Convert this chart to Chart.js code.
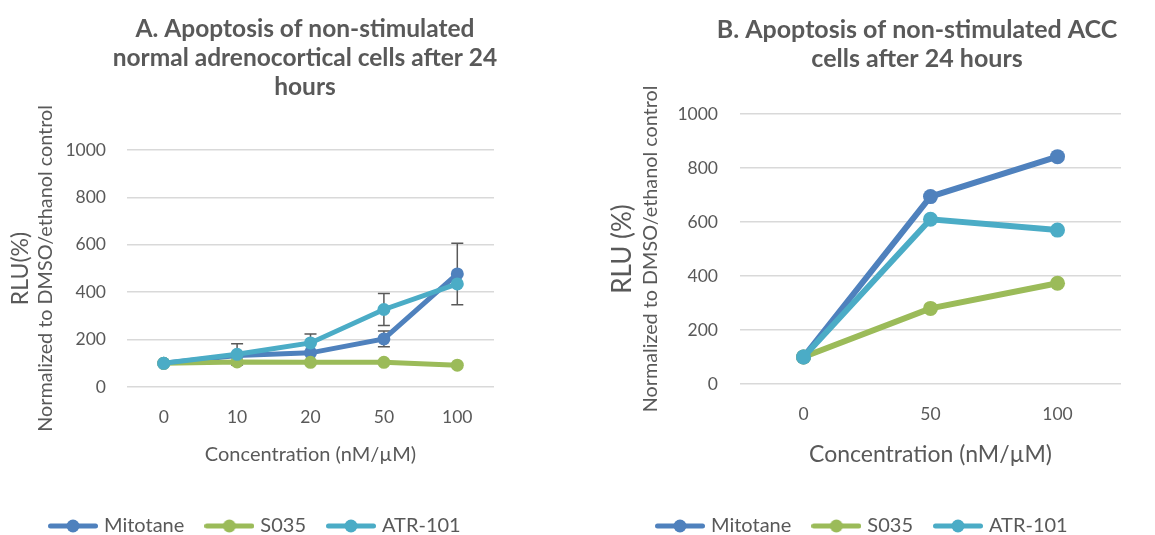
<!DOCTYPE html>
<html>
<head>
<meta charset="utf-8">
<script src="https://cdn.jsdelivr.net/npm/chart.js@4.4.1/dist/chart.umd.min.js"></script>
<style>
  body { margin: 0; background: #fff; overflow: hidden; width: 1155px; height: 535px; position: relative; }
  canvas { position: absolute; top: 0; }
  #chartA { left: 0; }
  #chartB { left: 600px; }
</style>
</head>
<body>
<canvas id="chartA" width="610" height="535"></canvas>
<canvas id="chartB" width="634" height="535"></canvas>
<script>
const seriesNames = ["Mitotane", "S035", "ATR-101"];
const seriesColors = ["#4f81bd", "#9bbb59", "#4bacc6"];

// panel A - normal adrenocortical cells
const concA = ["0", "10", "20", "50", "100"];
const mitotaneA = [100, 133, 144, 203, 477];
const s035A = [100, 106, 104, 104, 92];
const atrA = [100, 138, 186, 327, 435];
const mitotaneErrA = [0, 0, 0, 33, 130];
const s035ErrA = [0, 0, 0, 0, 0];
const atrErrA = [0, 45, 38, 67, 0];

// panel B - ACC cells
const concB = ["0", "50", "100"];
const mitotaneB = [100, 694, 842];
const s035B = [100, 280, 373];
const atrB = [100, 610, 570];

const yMin = 0;
const yMax = 1000;
const yStep = 200;

const titleA = ["A. Apoptosis of non-stimulated", "normal adrenocortical cells after 24", "hours"];
const titleB = ["B. Apoptosis of non-stimulated ACC", "cells after 24 hours"];

Chart.defaults.font.family = "Lato";
Chart.defaults.color = "#595959";

// little line-with-dot picture for the legend, like excel does
function legendIcon(color, lw, r) {
  const c = document.createElement("canvas");
  c.width = 50;
  c.height = 16;
  const g = c.getContext("2d");
  g.strokeStyle = color;
  g.lineWidth = lw;
  g.lineCap = "round";
  g.beginPath();
  g.moveTo(lw / 2, 8);
  g.lineTo(50 - lw / 2, 8);
  g.stroke();
  g.fillStyle = color;
  g.beginPath();
  g.arc(25, 8, r, 0, Math.PI * 2);
  g.fill();
  return c;
}

const errorBars = {
  id: "errorBars",
  beforeDatasetsDraw(chart) {
    const ctx = chart.ctx;
    const y = chart.scales.y;
    ctx.save();
    ctx.strokeStyle = "#595959";
    ctx.lineWidth = 1.5;
    chart.data.datasets.forEach((ds, i) => {
      if (!ds.errors) return;
      const meta = chart.getDatasetMeta(i);
      meta.data.forEach((pt, j) => {
        const e = ds.errors[j];
        if (!e) return;
        const top = y.getPixelForValue(ds.data[j] + e);
        const bot = y.getPixelForValue(ds.data[j] - e);
        ctx.beginPath();
        ctx.moveTo(pt.x, top);
        ctx.lineTo(pt.x, bot);
        ctx.moveTo(pt.x - 6, top);
        ctx.lineTo(pt.x + 6, top);
        ctx.moveTo(pt.x - 6, bot);
        ctx.lineTo(pt.x + 6, bot);
        ctx.stroke();
      });
    });
    ctx.restore();
  },
};

// move the legend so it sits where the original one is
const legendPlace = {
  id: "legendPlace",
  afterLayout(chart, args, opts) {
    const lg = chart.legend;
    if (!lg) return;
    const pad = lg.options.labels.padding;
    const fs = lg.options.labels.font.size;
    const w = lg.right - lg.left;
    const h = lg.bottom - lg.top;
    lg.left = opts.x - pad;
    lg.right = lg.left + w;
    lg.top = opts.cy - pad - fs / 2;
    lg.bottom = lg.top + h;
  },
};

function buildChart(id, labels, values, errors, s) {
  const orders = [3, 2, 1]; // ATR-101 on top, like the original
  const datasets = values.map((data, i) => ({
    label: seriesNames[i],
    data: data,
    errors: errors ? errors[i] : null,
    order: orders[i],
    borderColor: seriesColors[i],
    backgroundColor: seriesColors[i],
    pointBackgroundColor: seriesColors[i],
    pointBorderWidth: 0,
    pointRadius: s.pointR,
    pointHoverRadius: s.pointR,
    borderWidth: s.lineW,
    tension: 0,
  }));
  const icons = seriesColors.map((c) => legendIcon(c, 5, 6.5));

  new Chart(document.getElementById(id), {
    type: "line",
    data: { labels: labels, datasets: datasets },
    plugins: [errorBars, legendPlace],
    options: {
      responsive: false,
      animation: false,
      plugins: {
        title: {
          display: true,
          text: s.title,
          color: "#595959",
          font: { size: s.titleSize, weight: "bold", lineHeight: s.titleLH },
          padding: { top: 15, bottom: s.titleGap },
        },
        legend: {
          position: "bottom",
          align: "start",
          reverse: true,
          labels: {
            usePointStyle: true,
            pointStyleWidth: 42,
            padding: 24,
            color: "#595959",
            font: { size: 20 },
            generateLabels(chart) {
              const items = Chart.defaults.plugins.legend.labels.generateLabels(chart);
              items.forEach((it) => (it.pointStyle = icons[it.datasetIndex]));
              return items;
            },
          },
        },
        legendPlace: { x: s.legendX, cy: 526 },
        tooltip: { enabled: false },
      },
      scales: {
        x: {
          offset: true,
          grid: { display: false, drawTicks: false },
          border: { display: false },
          ticks: { padding: 20, font: { size: 17.5 } },
          title: {
            display: true,
            text: "Concentration (nM/µM)",
            font: { size: s.xTitleSize, lineHeight: s.xTitleLH },
            padding: { top: 0, bottom: s.xTitleBottom },
          },
          afterFit: (scale) => {
            scale.height = s.xHeight;
          },
        },
        y: {
          position: "left",
          weight: 0,
          min: yMin,
          max: yMax,
          grid: { color: "#d9d9d9", lineWidth: 1.5, drawTicks: false },
          border: { display: false },
          ticks: {
            stepSize: yStep,
            padding: s.tickPad,
            font: { size: 17.5 },
            callback: (v) => String(v),
          },
          title: {
            display: true,
            text: "Normalized to DMSO/ethanol control",
            font: { size: 19.8, lineHeight: "23px" },
            padding: { top: s.normTop, bottom: 0 },
          },
          afterFit: (scale) => {
            scale.width = s.yWidth;
          },
        },
        yT: {
          position: "left",
          weight: 1,
          grid: { display: false, drawTicks: false },
          border: { display: false },
          ticks: { display: false },
          title: {
            display: true,
            text: s.rluText,
            font: { size: s.rluSize, lineHeight: s.rluLH },
            padding: { top: s.rluTop, bottom: 0 },
          },
          afterFit: (scale) => {
            scale.width = s.rluWidth;
          },
        },
        pad: {
          position: "right",
          grid: { display: false, drawTicks: false },
          border: { display: false },
          ticks: { display: false },
          afterFit: (scale) => {
            scale.width = s.rightPad;
          },
        },
      },
    },
  });
}

buildChart("chartA", concA, [mitotaneA, s035A, atrA], [mitotaneErrA, s035ErrA, atrErrA], {
  title: titleA,
  titleSize: 24.5,
  titleLH: "29px",
  titleGap: 48,
  pointR: 6.5,
  lineW: 5,
  legendX: 52,
  xTitleSize: 20,
  xTitleLH: "24px",
  xTitleBottom: 14,
  xHeight: 94,
  tickPad: 21,
  normTop: 1,
  yWidth: 94,
  rluText: "RLU(%)",
  rluSize: 23,
  rluLH: "26px",
  rluTop: 8,
  rluWidth: 33,
  rightPad: 116,
});

buildChart("chartB", concB, [mitotaneB, s035B, atrB], null, {
  title: titleB,
  titleSize: 25,
  titleLH: "29.5px",
  titleGap: 40,
  pointR: 7.5,
  lineW: 6,
  legendX: 59,
  xTitleSize: 23,
  xTitleLH: "27px",
  xTitleBottom: 12.5,
  xHeight: 97,
  tickPad: 22,
  normTop: 2,
  yWidth: 103,
  rluText: "RLU (%)",
  rluSize: 26,
  rluLH: "30px",
  rluTop: 8,
  rluWidth: 37,
  rightPad: 113,
});
</script>
</body>
</html>
